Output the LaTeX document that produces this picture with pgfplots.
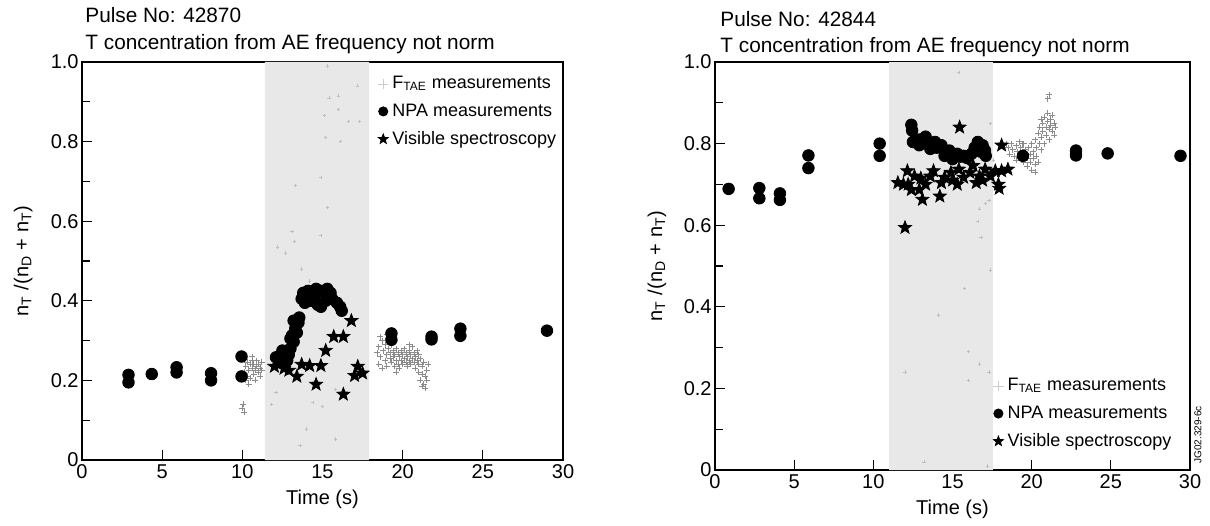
\documentclass[border=0pt]{standalone}
\usepackage{fontspec}
\setmainfont{Liberation Sans}
\usepackage{pgfplots}
\pgfplotsset{compat=1.18}
\usetikzlibrary{plotmarks}

% filled five-pointed star
\pgfdeclareplotmark{fstar}{%
  \pgfpathmoveto{\pgfpointpolar{90}{\pgfplotmarksize}}%
  \pgfpathlineto{\pgfpointpolar{126}{0.42\pgfplotmarksize}}%
  \pgfpathlineto{\pgfpointpolar{162}{\pgfplotmarksize}}%
  \pgfpathlineto{\pgfpointpolar{198}{0.42\pgfplotmarksize}}%
  \pgfpathlineto{\pgfpointpolar{234}{\pgfplotmarksize}}%
  \pgfpathlineto{\pgfpointpolar{270}{0.42\pgfplotmarksize}}%
  \pgfpathlineto{\pgfpointpolar{306}{\pgfplotmarksize}}%
  \pgfpathlineto{\pgfpointpolar{342}{0.42\pgfplotmarksize}}%
  \pgfpathlineto{\pgfpointpolar{18}{\pgfplotmarksize}}%
  \pgfpathlineto{\pgfpointpolar{54}{0.42\pgfplotmarksize}}%
  \pgfpathclose
  \pgfusepathqfillstroke
}

\definecolor{shade}{gray}{0.91}
\definecolor{ftae}{gray}{0.55}

\pgfplotsset{
  jet/.style={
    scale only axis,
    anchor=south west,
    xmin=0, xmax=30, ymin=0, ymax=1,
    xtick={0,5,10,15,20,25,30},
    xticklabels={0,5,10,15,20,25,30},
    ytick={0,0.2,0.4,0.6,0.8,1.0},
    yticklabels={0,0.2,0.4,0.6,0.8,1.0},
    minor ytick={0.1,0.3,0.5,0.7,0.9},
    /pgf/number format/assume math mode=true,
    tick align=inside,
    tick pos=left,
    major tick length=5pt,
    minor tick length=4pt,
    axis line style={line width=0.6pt},
    every tick/.style={black, line width=0.6pt},
    tick label style={font=\fontsize{10}{12}\selectfont},
    yticklabel style={inner xsep=1.5pt},
    xticklabel style={inner ysep=2pt},
    label style={font=\fontsize{10}{12}\selectfont},
    xlabel={Time (s)},
    ylabel={n\textsubscript{T} /(n\textsubscript{D} + n\textsubscript{T})},
    ylabel style={at={(axis description cs:-0.122,0.5)}, anchor=center},
    legend cell align=left,
    legend style={draw=none, fill=none, font=\fontsize{9}{11}\selectfont,
      row sep=2pt, inner sep=0pt},
    legend image code/.code={\draw[#1] plot coordinates {(0pt,0pt)};},
    npa/.style={only marks, mark=*, mark size=2.9pt, black, forget plot},
    vis/.style={only marks, mark=fstar, mark size=3.4pt, black, forget plot},
    fta/.style={only marks, mark=+, mark size=1.5pt, ftae, line width=0.3pt, forget plot},
    faint/.style={only marks, mark=+, mark size=0.8pt, gray!50, line width=0.3pt, forget plot},
  }
}

\begin{document}
\begin{tikzpicture}
\useasboundingbox (0,0) rectangle (605pt,262.5pt);

% ---------------- Pulse 42870 ----------------
\begin{axis}[jet, at={(41pt,32.5pt)}, width=240.5pt, height=199pt,
  legend style={at={(0.995,0.975)}, anchor=north east}]
\addplot[fill=shade, draw=none, forget plot] coordinates {(11.4,0)(17.9,0)(17.9,1)(11.4,1)} \closedcycle;

\addlegendimage{only marks, mark=+, mark size=2.6pt, gray!40, line width=0.4pt}
\addlegendentry{F\textsubscript{TAE} measurements}
\addlegendimage{only marks, mark=*, mark size=2.3pt, black}
\addlegendentry{NPA measurements}
\addlegendimage{only marks, mark=fstar, mark size=2.6pt, black}
\addlegendentry{Visible spectroscopy}

% sparse values inside the shaded window
\addplot[faint] coordinates {
(16.0,0.915)(15.4,0.91)(16.0,0.88)(15.1,0.865)(16.6,0.85)(17.3,0.85)(15.2,0.81)
(16.1,0.8)(17.2,0.94)(14.9,0.71)(13.3,0.69)(15.3,0.635)(13.1,0.575)(14.9,0.565)
(13.25,0.55)(12.2,0.535)(12.7,0.52)(15.3,0.99)(13.7,0.48)(14.2,0.45)(11.8,0.14)
(12.1,0.17)(14.4,0.144)(15.0,0.135)(14.0,0.078)(13.6,0.036)(15.8,0.177)(15.8,0.053)
(16.8,0.2)
};

\addplot[fta] coordinates {
(10.1,0.22)(10.2,0.235)(10.3,0.21)(10.3,0.245)(10.4,0.225)(10.5,0.24)(10.5,0.205)
(10.6,0.23)(10.6,0.25)(10.7,0.215)(10.7,0.24)(10.8,0.225)(10.8,0.2)(10.9,0.235)
(10.9,0.25)(11.0,0.22)(11.0,0.24)(11.1,0.23)(11.1,0.21)(11.2,0.245)(10.2,0.2)
(10.4,0.19)(10.6,0.26)(11.2,0.225)(10.0,0.13)(10.05,0.14)(10.1,0.12)
(18.4,0.27)(18.5,0.24)(18.5,0.285)(18.6,0.26)(18.7,0.3)(18.7,0.23)(18.8,0.275)
(18.9,0.25)(18.9,0.29)(19.0,0.265)(19.0,0.235)(19.1,0.28)(19.1,0.305)(19.2,0.255)
(19.2,0.27)(19.3,0.245)(19.3,0.29)(19.4,0.26)(19.4,0.275)(19.5,0.235)(19.5,0.265)
(19.6,0.25)(19.6,0.28)(19.7,0.27)(19.7,0.24)(19.8,0.26)(19.8,0.23)(19.9,0.275)
(19.9,0.25)(20.0,0.265)(20.0,0.24)(20.1,0.255)(20.1,0.28)(20.2,0.245)(20.2,0.27)
(20.3,0.26)(20.3,0.235)(20.4,0.25)(20.4,0.275)(20.5,0.265)(20.5,0.24)(20.6,0.255)
(20.6,0.285)(20.7,0.245)(20.7,0.27)(20.8,0.26)(20.8,0.23)(20.9,0.25)(20.9,0.275)
(21.0,0.24)(21.0,0.22)(21.1,0.255)(21.1,0.2)(21.2,0.235)(21.2,0.215)(21.3,0.19)
(21.3,0.245)(21.4,0.21)(21.4,0.18)(21.5,0.225)(21.5,0.2)(21.6,0.24)(21.0,0.265)
(18.6,0.31)(19.0,0.315)(20.4,0.29)(21.2,0.185)(19.6,0.22)
};

\addplot[npa] coordinates {
(2.9,0.214)(2.9,0.195)(4.35,0.216)(5.9,0.233)(5.9,0.22)(8.05,0.218)(8.05,0.2)
(9.95,0.26)(9.95,0.21)
(12.1,0.258)(12.35,0.245)(12.6,0.262)(12.8,0.25)(12.5,0.275)(13.0,0.28)(13.2,0.297)
(13.1,0.313)(13.3,0.33)(13.5,0.345)(13.55,0.358)(13.2,0.35)(12.9,0.265)(12.3,0.26)
(13.0,0.305)(13.4,0.32)
(13.7,0.405)(13.8,0.42)(14.1,0.425)(14.4,0.42)(14.6,0.43)(14.9,0.425)(15.3,0.43)
(15.5,0.42)(13.9,0.395)(14.3,0.4)(14.7,0.39)(14.9,0.385)(15.2,0.4)(15.6,0.405)
(15.9,0.395)(16.1,0.385)(16.2,0.375)(14.5,0.41)
(19.3,0.318)(19.3,0.302)(21.8,0.31)(21.8,0.303)(23.6,0.33)(23.6,0.312)(29.0,0.325)
};

\addplot[vis] coordinates {
(12.0,0.235)(12.6,0.23)(13.4,0.21)(14.2,0.237)(14.9,0.237)(14.6,0.19)(15.2,0.275)
(15.7,0.31)(16.3,0.31)(16.8,0.35)(16.3,0.165)(17.2,0.235)(17.0,0.212)(17.5,0.218)
(13.7,0.24)(12.9,0.225)
};
\end{axis}

% ---------------- Pulse 42844 ----------------
\begin{axis}[jet, at={(357.5pt,27.5pt)}, width=237.5pt, height=204pt,
  legend style={at={(0.97,0.04)}, anchor=south east}]
\addplot[fill=shade, draw=none, forget plot] coordinates {(11.0,0)(17.55,0)(17.55,1)(11.0,1)} \closedcycle;

\addlegendimage{only marks, mark=+, mark size=2.6pt, gray!40, line width=0.4pt}
\addlegendentry{F\textsubscript{TAE} measurements}
\addlegendimage{only marks, mark=*, mark size=2.3pt, black}
\addlegendentry{NPA measurements}
\addlegendimage{only marks, mark=fstar, mark size=2.6pt, black}
\addlegendentry{Visible spectroscopy}

\addplot[faint] coordinates {
(15.4,0.975)(17.4,0.85)(16.7,0.64)(17.06,0.654)(17.3,0.66)(16.8,0.57)(16.6,0.61)
(14.1,0.38)(16.0,0.29)(16.7,0.26)(12.0,0.24)(16.0,0.22)(17.3,0.24)(15.75,0.445)
(17.4,0.49)(17.2,0.01)(13.2,0.02)(17.6,0.76)
};

\addplot[fta] coordinates {
(18.5,0.79)(18.6,0.775)(18.7,0.8)(18.8,0.785)(18.9,0.77)(19.0,0.795)(19.1,0.78)
(19.2,0.805)(19.2,0.765)(19.3,0.79)(19.4,0.775)(19.5,0.755)(19.5,0.8)(19.6,0.785)
(19.7,0.765)(19.7,0.745)(19.8,0.79)(19.9,0.775)(19.9,0.755)(20.0,0.8)(20.0,0.735)
(20.1,0.78)(20.1,0.765)(20.2,0.75)(20.2,0.81)(20.3,0.79)(20.3,0.77)(20.4,0.825)
(20.4,0.755)(20.5,0.8)(20.5,0.84)(20.6,0.815)(20.6,0.785)(20.7,0.85)(20.7,0.83)
(20.8,0.8)(20.8,0.865)(20.9,0.84)(20.9,0.82)(21.0,0.855)(21.0,0.875)(21.1,0.835)
(21.1,0.81)(21.2,0.86)(21.2,0.845)(21.3,0.83)(21.3,0.87)(21.4,0.85)(21.4,0.82)
(21.5,0.84)(21.0,0.91)(21.1,0.92)(20.6,0.86)(19.0,0.76)(18.4,0.8)(20.2,0.73)(19.4,0.8)
};

\addplot[npa] coordinates {
(0.86,0.689)(2.8,0.691)(2.8,0.666)(4.1,0.678)(4.1,0.662)(5.9,0.771)(5.9,0.74)
(10.4,0.8)(10.4,0.77)
(12.4,0.846)(12.45,0.832)(12.5,0.804)(12.9,0.81)(13.3,0.817)(13.9,0.804)(14.3,0.796)
(14.8,0.783)(15.3,0.775)(15.7,0.77)(16.2,0.775)(16.6,0.804)(16.9,0.796)(17.05,0.783)
(14.5,0.77)(15.0,0.762)(13.6,0.787)(12.9,0.796)(13.5,0.8)(16.4,0.79)(17.1,0.77)
(15.9,0.765)(14.0,0.79)(15.5,0.768)(16.8,0.78)
(19.45,0.77)(22.8,0.783)(22.8,0.771)(24.8,0.776)(29.4,0.77)
};

\addplot[vis] coordinates {
(11.55,0.704)(11.9,0.70)(12.15,0.733)(12.6,0.72)(12.9,0.687)(13.1,0.663)(13.6,0.72)
(13.8,0.733)(14.2,0.671)(14.5,0.717)(14.9,0.729)(15.3,0.70)(15.4,0.737)(15.7,0.717)
(16.1,0.729)(16.3,0.746)(16.7,0.72)(17.06,0.737)(17.4,0.72)(17.9,0.70)(18.1,0.733)
(18.5,0.737)(12.4,0.687)(13.3,0.70)(14.3,0.704)(16.5,0.704)(17.7,0.733)(17.95,0.69)
(13.0,0.715)(15.0,0.71)(16.9,0.71)(12.2,0.70)
(12.0,0.594)(15.45,0.84)(18.1,0.796)
};
\end{axis}

% titles
\node[anchor=base west, font=\fontsize{10.4}{12}\selectfont, inner sep=0pt] at (42.5pt,251pt) {Pulse No: 42870};
\node[anchor=base west, font=\fontsize{10.4}{12}\selectfont, inner sep=0pt] at (42.5pt,237.5pt) {T concentration from AE frequency not norm};
\node[anchor=base west, font=\fontsize{10.4}{12}\selectfont, inner sep=0pt] at (360pt,249pt) {Pulse No: 42844};
\node[anchor=base west, font=\fontsize{10.4}{12}\selectfont, inner sep=0pt] at (360pt,236pt) {T concentration from AE frequency not norm};
\node[rotate=90, font=\fontsize{5}{6}\selectfont, inner sep=0pt] at (599pt,45pt) {JG02.329-6c};
\end{tikzpicture}
\end{document}
